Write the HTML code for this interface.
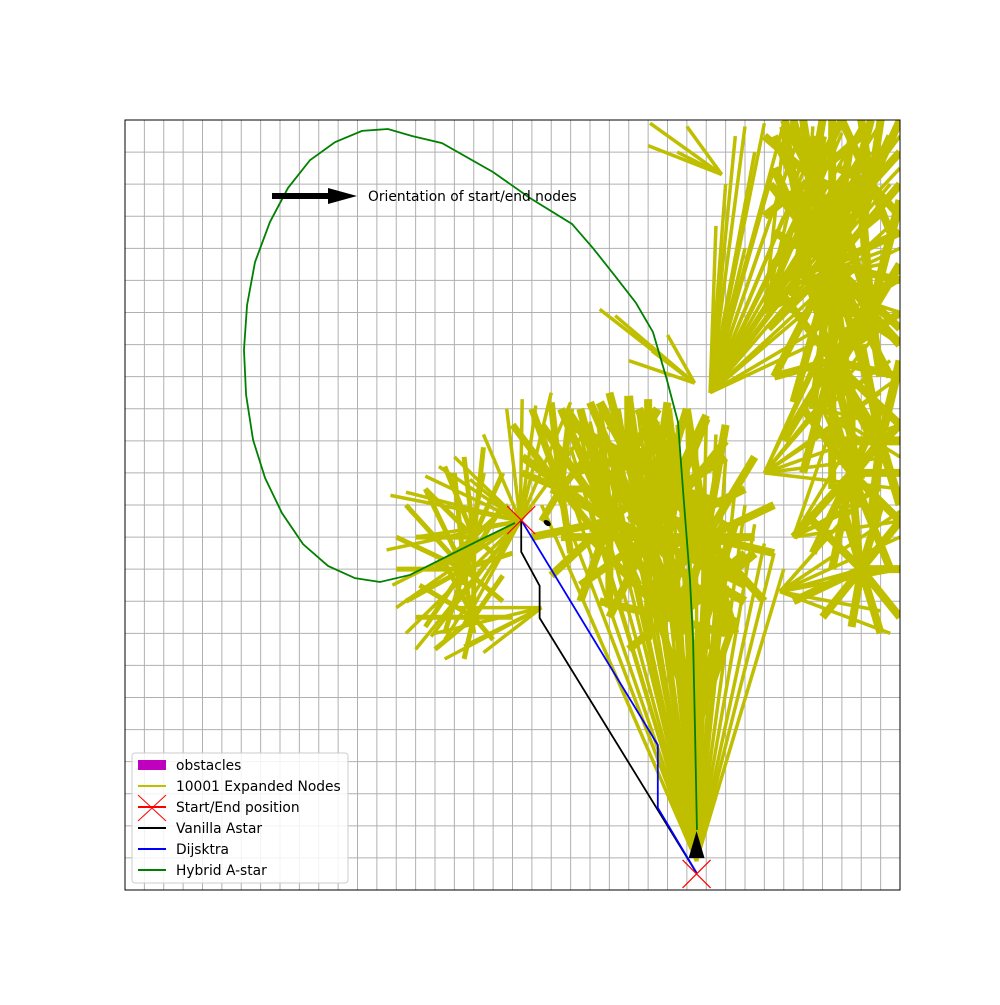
<!DOCTYPE html>
<html><head><meta charset="utf-8"><style>
body{margin:0;background:#fff}
svg text{font-family:"DejaVu Sans","Liberation Sans",sans-serif}
</style></head><body>
<svg id="chart" width="1000" height="1000" viewBox="0 0 1000 1000" xmlns="http://www.w3.org/2000/svg">
<rect width="1000" height="1000" fill="#fff"/>
<g id="grid"></g>
<g id="nodes"></g>
<g id="paths"></g>
<rect x="900.5" y="110" width="30" height="790" fill="#fff"/>
<rect x="115" y="100" width="820" height="19.5" fill="#fff"/>
<rect x="125" y="120" width="775" height="770" fill="none" stroke="#000" stroke-width="1"/>
<g>
<line x1="272" y1="196" x2="340" y2="196" stroke="#000" stroke-width="6"/>
<polygon points="328,188 357,196 328,204" fill="#000"/>
<text x="368" y="201" font-size="13.8">Orientation of start/end nodes</text>
</g>
<g id="legend">
<rect x="132" y="753" width="216" height="130" rx="3" fill="#fff" fill-opacity="0.85" stroke="#ccc"/>
<rect x="138" y="760" width="28" height="10" fill="#bf00bf"/>
<text x="176" y="770" font-size="13.8">obstacles</text>
<line x1="138" y1="786" x2="166" y2="786" stroke="#bfbf00" stroke-width="2"/>
<text x="176" y="791" font-size="13.8">10001 Expanded Nodes</text>
<line x1="138" y1="795" x2="166" y2="821" stroke="red"/><line x1="166" y1="795" x2="138" y2="821" stroke="red"/>
<line x1="138" y1="807" x2="166" y2="807" stroke="red" stroke-width="2"/>
<text x="176" y="812" font-size="13.8">Start/End position</text>
<line x1="138" y1="828" x2="166" y2="828" stroke="#000" stroke-width="2"/>
<text x="176" y="833" font-size="13.8">Vanilla Astar</text>
<line x1="138" y1="849" x2="166" y2="849" stroke="blue" stroke-width="2"/>
<text x="176" y="854" font-size="13.8">Dijsktra</text>
<line x1="138" y1="870" x2="166" y2="870" stroke="green" stroke-width="2"/>
<text x="176" y="875" font-size="13.8">Hybrid A-star</text>
</g>
</svg>
<script>
const xCells = 40, yCells = 24;
const fanOrigins = [[29.5,0.9],[20.4,11.5],[21.5,8.8],[30.2,15.5],[33,13],[33.8,9.3],[33,18],[30.8,22.3],[29.4,15.8],[35,19],[36,15],[34.5,11],
 [36.5,19.5],[36.5,16.5],[37.5,13],[38,10],[35.5,22.2],[38.5,22],[27,11],[30,11],[25,11.5],[17.5,10],[18,8.5],[29.5,5],[28,8.5],
 [38.5,18],[35,20.5],[39,14],[28.5,12.5],[26,13.5],[30.5,9.5],[22.5,12.5],[18,11]];
const fanEnds = [
 [[21.5,12],[22,12.8],[22.5,13.2],[23,13.8],[23.5,14.2],[24,14.6],[24.5,15],[25,15.4],[25.5,15],[26,15.3],[26.5,14.8],[27,15.2],[27.5,14.6],[28,14.9],[28.5,14.5],[29,14.8],[29.5,14.3],[30,14.6],[30.5,14.2],[31,13.4],[31.5,12.6],[32,12],[32.5,11.4],[33,10.8],[33.5,10.5],[34,10],[25,13],[26,12],[27,11],[28,12.5],[30,12],[31,10.5],[24,12],[29,13],[26.5,13.5]],
 [[13.5,10.6],[13.8,9.5],[14,8.8],[14.5,8],[15,7.5],[15.8,7.9],[16.5,7.8],[17.5,8.3],[13.7,12.3],[14.5,12.4],[15.5,12.9],[16.2,13.2],[17,13.5],[17.8,12.8],[19.7,15],[20.5,15.3],[21.2,15.1],[22,15.5],[23,15.2],[24,14.5],[18.5,14.2],[15,11],[16,10]],
 [[16,8],[16.5,7.2],[17.5,7.6],[18.5,7.4],[17,8.8]],
 [[30.5,20.7],[31,22],[31.5,23.5],[32,23.8],[32.5,23],[33,23.9],[33.5,22.5],[34,23.9],[34.5,23],[35,23.9],[35.5,22],[36,23.8],[36.5,23],[37,23.9],[37.5,22.5],[38,23.8],[38.5,23],[39,23.9],[39.5,22],[40,23.5],[40,21],[40,19],[39,18],[38,19.5],[32,20],[34,21],[36,20]],
 [[36,17],[37,18],[38,16.5],[39,17.5],[40,16],[40,14.5],[39.5,13.5],[40,12.5],[38,15],[37,16],[39,15.5]],
 [[39.5,8],[40,10],[40,11],[39,8.7],[38,10],[40,11.8],[38.5,12.5],[37,11.5]],
 [[34,23.5],[35,23],[36,22.5],[37,23.6],[38,22],[39,23],[40,22.5],[40,20],[37,20],[36,21],[35,21.5],[39,21]],
 [[27.1,23.9],[27,23.2],[28.5,23.0],[29,23.8]],
 [[24.5,18.1],[25.3,17.9],[26,16.5],[27.2,16.8],[28,17.3]],
 [[35.5,23.8],[36.5,22],[37.5,21],[38.5,21.5],[39.5,20],[40,18],[38,18],[37,19],[39,19.5],[40,17]],
 [[38,14],[39,14.5],[40,13.5],[38.5,16],[39.5,16.5],[37.5,13]],
 [[37,13.5],[38,12],[39,12.5],[40,11.5],[36.5,14.5]],
 [[33.5,23.5],[34.5,24],[35.5,23.5],[36.5,24],[37.5,23.5],[38.5,24],[39.5,23.5],[40,22],[40,20.5],[40,19],[40,17.5],[39.5,16],[38.5,15.5],[37.5,15],[36.5,14.8],[35.5,15],[34.5,15.2],[33.5,16],[33.2,17.5],[33.3,19],[33.5,20.5],[33.3,22]],
 [[33.5,16],[34,18.5],[35,19.5],[37,20],[39,19],[40,18],[40,16],[40,14.5],[39,13.5],[38,12.8],[36.5,12.5],[35,13],[34,14]],
 [[34.5,11],[35.5,10.5],[36.5,10],[38,9.5],[39.5,10],[40,11.5],[40,13],[40,14.5],[39,15],[37.5,16],[36,16],[35,15]],
 [[34.5,9],[36,8.5],[37.5,8.2],[39,8],[40,8.5],[40,10],[40,11.5],[39,12],[37,12],[35.5,11.5]],
 [[33,23.5],[34,24],[35,24],[36,24],[37,24],[38,23.5],[38,21.5],[36.5,20.8],[34.5,20.5],[33,21]],
 [[37,24],[38,24],[39,24],[40,24],[40,23],[40,21],[39.5,20.5],[38,20.5],[37,21],[36.8,22.5]],
 [[23,14.8],[24,15.2],[25,15.5],[26,15.4],[27,15.3],[28,15.2],[29,15],[30,14.8],[31,14],[32,12.5],[32.5,11],[32,9.5],[31,8.5],[29,8],[27,7.8],[25,8.5],[23.5,9.5],[22.5,11],[22,12.5]],
 [[25,14.5],[27,15],[29,15],[31,14.5],[32.5,13.5],[33.5,12],[33.5,10.5],[33,9],[31.5,8],[30,7.5],[28.5,8],[27,9],[26,10.5],[25.5,12.5]],
 [[20.5,13.5],[21.5,14.5],[22.5,15],[23.5,15],[24.5,14.8],[26,14],[27,12.5],[27,11],[26.5,9.5],[25,8.8],[23.5,9],[22,9.8],[21,11]],
 [[14,11],[14,10],[14.5,9],[15.5,8.2],[16.5,8],[18,8],[19.5,9],[20,10.5],[19.5,12],[18.5,13],[17,13],[15.5,12.5],[14.5,12]],
 [[15,8.5],[16,7.5],[17.5,7.2],[19,7.8],[20,8.5],[19.5,9.8],[18,10.5],[16.5,10.2],[15.2,9.5]],
 [[27.5,8.5],[28,9.5],[29,10],[30,10],[31,9.5],[31.5,8.5],[30.5,7.5],[28.5,7.5]],
 [[24,11],[25,12],[26.5,12.5],[28,12.5],[29.5,12.3],[31,11.5],[32,10.5],[31,8],[26,7.5],[24.5,9]],
 [[36.5,22],[38,21.5],[40,21.5],[40,19.5],[40,17],[39,16],[37,16.5],[36,18],[36,20]],
 [[33.5,22.5],[34,23.8],[36,23.5],[37.5,22.5],[37.5,21],[36.5,19.5],[34.5,18.5],[33.5,19.5]],
 [[37,16],[38,17],[40,16.5],[40,14],[40,12],[38.5,11.5],[37,12.5],[36.5,14]],
 [[25,14.5],[26.5,15],[28,15],[30,14.7],[31,13.5],[31,12],[30,11],[28,11],[26,11.5]],
 [[23,14.5],[24.5,15.2],[26,15.4],[27.5,15],[28.5,14],[28,12.5],[26.5,12],[24.5,12.5],[23,13]],
 [[28.5,11.5],[30,12],[31.5,11.5],[32.5,10.5],[32,9],[31,8],[29.5,7.5],[28.5,8.5]],
 [[20,14.5],[21,15],[22,15.2],[23,15],[24.5,14],[25,12.5],[24.5,11],[23,10.5],[21.5,11.5],[20.5,13]],
 [[15.5,12.5],[16.5,13.2],[17.5,13.5],[18.5,13.8],[19.5,13],[19.8,12],[19,10.5],[17.5,9.5],[16,10],[15,11]]
];
const fanWidths = [3.5,3.5,3.5,3.5,3.5,3.5,3.5,3.5,3.5,3.5,3.5,3.5, 8,8,8,8,8,8,8,8,8,5,5,7,8, 9,9,9,9,9,9,7,5];
const blackU=[20.45,20.45,21.4,21.4,29.5], blackV=[11.53,10.54,9.48,8.48,0.53];
const blueU=[20.45,27.5,27.5,29.5], blueV=[11.53,4.52,2.56,0.53];
const greenU=[20.13,18.32,14.71,13.16,11.87,10.48,9.19,8.10,7.23,6.61,6.25,6.14,6.30,6.71,7.48,8.41,9.55,10.84,12.23,13.57,14.81,16.36,18.99,20.90,23.07,24.15,25.29,26.37,27.25,27.97,28.54,28.80,29.16,29.32,29.42,29.52];
const greenV=[11.44,10.91,9.82,9.60,9.72,10.10,10.78,11.75,12.84,14.03,15.43,16.83,18.23,19.57,20.82,21.88,22.75,23.31,23.66,23.72,23.50,23.28,22.38,21.57,20.76,20.01,19.14,18.30,17.39,15.90,14.59,12.47,9.66,7.79,4.99,1.87];
const markerU=[20.45,29.5], markerV=[11.53,0.5];

const X0=125,X1=900,Y0=890,Y1=120;
const sx=u=>X0+u*(X1-X0)/xCells, sy=v=>Y0-v*(Y0-Y1)/yCells;
const NS='http://www.w3.org/2000/svg';
function mk(tag,parent,attrs){const e=document.createElementNS(NS,tag);for(const k in attrs)e.setAttribute(k,attrs[k]);parent.appendChild(e);return e;}
const grid=document.getElementById('grid');
for(let i=1;i<xCells;i++){const l=mk('line',grid,{x1:sx(i),x2:sx(i),y1:Y1,y2:Y0,stroke:'#b0b0b0','stroke-width':1});

}
for(let j=1;j<yCells;j++){const l=mk('line',grid,{x1:X0,x2:X1,y1:sy(j),y2:sy(j),stroke:'#b0b0b0','stroke-width':1});

}
const nodes=document.getElementById('nodes');
fanOrigins.forEach((o,i)=>{fanEnds[i].forEach(e=>{
 const l=mk('line',nodes,{x1:sx(o[0]),y1:sy(o[1]),x2:sx(e[0]),y2:sy(e[1]),stroke:'#bfbf00','stroke-width':fanWidths[i]});
 
 
});});
const paths=document.getElementById('paths');
function poly(U,V,color,name){const p=mk('polyline',paths,{points:U.map((u,i)=>sx(u)+','+sy(V[i])).join(' '),fill:'none',stroke:color,'stroke-width':1.8});

}
poly(greenU,greenV,'green','hybrid-astar-path');
poly(blackU,blackV,'#000','vanilla-astar-path');
poly(blueU,blueV,'blue','dijkstra-path');
const ax=sx(29.5), ay=sy(0.9);
const arr=mk('polygon',paths,{points:`${ax-8},${ay-3} ${ax},${ay-30} ${ax+8},${ay-3}`,fill:'#000'});


const sa=mk('ellipse',paths,{cx:sx(20.45)+26,cy:sy(11.53)+3,rx:4,ry:2.5,fill:'#000',transform:`rotate(35 ${sx(20.45)+26} ${sy(11.53)+3})`});


markerU.forEach((u,i)=>{const x=sx(u),y=sy(markerV[i]);
 const g=mk('g',paths,{});
 
 
 mk('line',g,{x1:x-14,y1:y-14,x2:x+14,y2:y+14,stroke:'red','stroke-width':1.2});
 mk('line',g,{x1:x+14,y1:y-14,x2:x-14,y2:y+14,stroke:'red','stroke-width':1.2});
});
</script>
</body></html>
